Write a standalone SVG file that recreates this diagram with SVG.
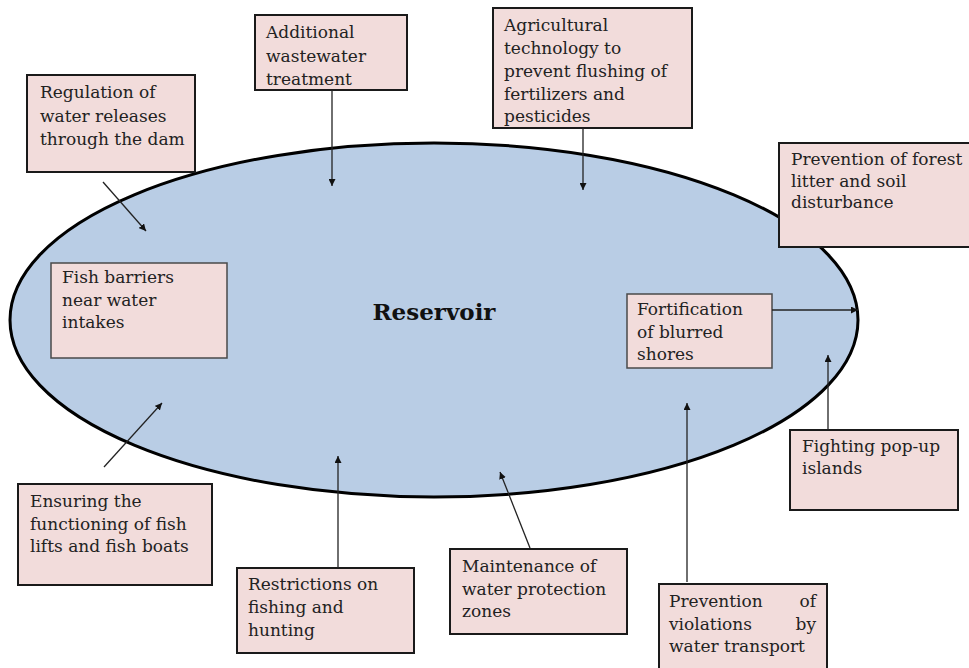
<svg xmlns="http://www.w3.org/2000/svg" width="969" height="668" viewBox="0 0 969 668">
<style>
.box{fill:#f2dcdb;stroke:#1a1a1a;stroke-width:2}
.box2{fill:#f2dcdb;stroke:#4a4a4a;stroke-width:1.5}
.t{font-family:"DejaVu Serif","Liberation Serif",serif;font-size:17px;fill:#222}
.c{stroke:#222;stroke-width:1.3;fill:none;marker-end:url(#ah)}
</style>
<defs>
<marker id="ah" viewBox="0 0 10 10" refX="10" refY="5" markerWidth="7" markerHeight="7" markerUnits="userSpaceOnUse" orient="auto">
<path d="M0,0 L10,5 L0,10 z" fill="#111"/>
</marker>
</defs>
<rect width="969" height="668" fill="#fff"/>
<g id="reservoir">
<ellipse cx="434" cy="320" rx="424" ry="177" fill="#b9cde5" stroke="#000" stroke-width="3"/>
<text x="434" y="320" text-anchor="middle" font-family="DejaVu Serif, Liberation Serif, serif" font-weight="bold" font-size="23" fill="#111">Reservoir</text>
</g>
<g id="n-regulation">
<rect class="box" x="27" y="75" width="168" height="97"/>
<text class="t" x="40" y="98">Regulation of</text>
<text class="t" x="40" y="122">water releases</text>
<text class="t" x="40" y="145">through the dam</text>
</g>
<g id="n-wastewater">
<rect class="box" x="255" y="15" width="152" height="75"/>
<text class="t" x="266" y="38">Additional</text>
<text class="t" x="266" y="62">wastewater</text>
<text class="t" x="266" y="85">treatment</text>
</g>
<g id="n-agri">
<rect class="box" x="493" y="8" width="199" height="120"/>
<text class="t" x="504" y="31">Agricultural</text>
<text class="t" x="504" y="54">technology to</text>
<text class="t" x="504" y="77">prevent flushing of</text>
<text class="t" x="504" y="100">fertilizers and</text>
<text class="t" x="504" y="122">pesticides</text>
</g>
<g id="n-forest">
<rect class="box" x="779" y="143" width="195" height="104"/>
<text class="t" x="791" y="165">Prevention of forest</text>
<text class="t" x="791" y="187">litter and soil</text>
<text class="t" x="791" y="208">disturbance</text>
</g>
<g id="n-fishbarriers">
<rect class="box2" x="51" y="263" width="176" height="95"/>
<text class="t" x="62" y="283">Fish barriers</text>
<text class="t" x="62" y="306">near water</text>
<text class="t" x="62" y="328">intakes</text>
</g>
<g id="n-fortification">
<rect class="box2" x="627" y="294" width="145" height="74"/>
<text class="t" x="637" y="315">Fortification</text>
<text class="t" x="637" y="338">of blurred</text>
<text class="t" x="637" y="360">shores</text>
</g>
<g id="n-fishlifts">
<rect class="box" x="18" y="484" width="194" height="101"/>
<text class="t" x="30" y="507">Ensuring the</text>
<text class="t" x="30" y="530">functioning of fish</text>
<text class="t" x="30" y="552">lifts and fish boats</text>
</g>
<g id="n-restrictions">
<rect class="box" x="237" y="568" width="177" height="85"/>
<text class="t" x="248" y="590">Restrictions on</text>
<text class="t" x="248" y="613">fishing and</text>
<text class="t" x="248" y="636">hunting</text>
</g>
<g id="n-maintenance">
<rect class="box" x="450" y="549" width="177" height="85"/>
<text class="t" x="462" y="572">Maintenance of</text>
<text class="t" x="462" y="595">water protection</text>
<text class="t" x="462" y="617">zones</text>
</g>
<g id="n-popup">
<rect class="box" x="790" y="430" width="168" height="80"/>
<text class="t" x="802" y="452">Fighting pop-up</text>
<text class="t" x="802" y="474">islands</text>
</g>
<g id="n-transport">
<rect class="box" x="659" y="584" width="168" height="90"/>
<text class="t" x="669" y="607">Prevention</text>
<text class="t" x="816" y="607" text-anchor="end">of</text>
<text class="t" x="669" y="630">violations</text>
<text class="t" x="816" y="630" text-anchor="end">by</text>
<text class="t" x="669" y="652">water transport</text>
</g>
<g id="connectors">
<line class="c" x1="103" y1="182" x2="146" y2="231"/>
<line class="c" x1="332" y1="90" x2="332" y2="186"/>
<line class="c" x1="583" y1="128" x2="583" y2="190"/>
<line class="c" x1="772" y1="310" x2="858" y2="310"/>
<line class="c" x1="828" y1="430" x2="828" y2="355"/>
<line class="c" x1="687" y1="582" x2="687" y2="403"/>
<line class="c" x1="530" y1="548" x2="500" y2="472"/>
<line class="c" x1="338" y1="568" x2="338" y2="456"/>
<line class="c" x1="104" y1="467" x2="162" y2="403"/>
</g>
</svg>
